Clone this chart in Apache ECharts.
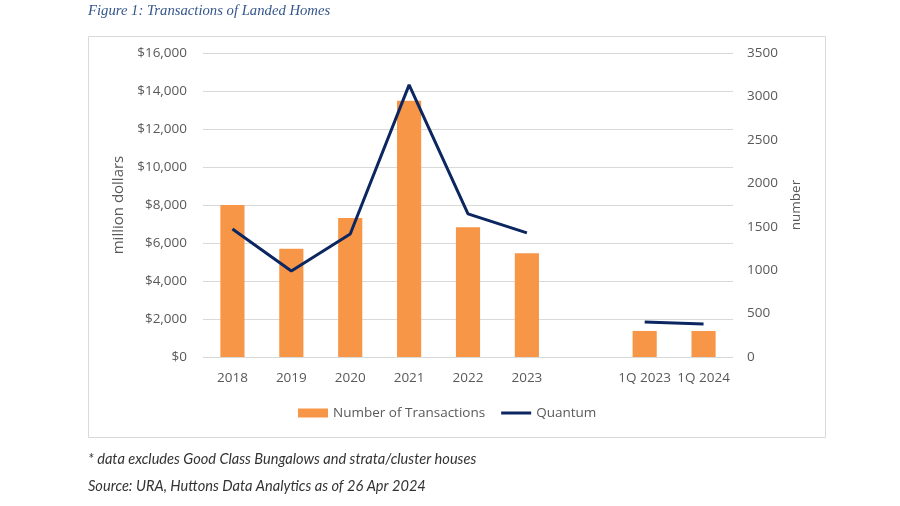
<!DOCTYPE html>
<html>
<head>
<meta charset="utf-8">
<script src="https://cdn.jsdelivr.net/npm/echarts@6/dist/echarts.min.js"></script>
<style>
html,body{margin:0;padding:0;background:#fff;}
#c{width:900px;height:506px;}
</style>
</head>
<body>
<div id="c"></div>
<script>
// Data
const categories = ['2018', '2019', '2020', '2021', '2022', '2023', '', '1Q 2023', '1Q 2024'];
const transactions = [1750, 1245, 1600, 2950, 1495, 1195, null, 300, 300]; // number (right axis)
const quantum = [6740, 4530, 6470, 14320, 7530, 6530, null, 1840, 1740];     // million dollars (left axis)
const leftTicks = { min: 0, max: 16000, interval: 2000 };
const rightTicks = { min: 0, max: 3500, interval: 500 };

const axisFont = { color: '#595959', fontSize: 13.5, fontFamily: 'Open Sans' };

const chart = echarts.init(document.getElementById('c'), null, { renderer: 'canvas' });
chart.setOption({
  animation: false,
  backgroundColor: '#fff',
  graphic: [
    { type: 'rect', shape: { x: 88.5, y: 36.5, width: 737, height: 401 },
      style: { fill: 'none', stroke: '#d9d9d9', lineWidth: 1 }, silent: true },
    { type: 'text', left: 88, top: 4,
      style: { text: 'Figure 1: Transactions of Landed Homes', fill: '#34568b',
        font: 'italic 14.7px "Liberation Serif"' } },
    { type: 'text', left: 88, top: 452,
      style: { text: '* data excludes Good Class Bungalows and strata/cluster houses', fill: '#333',
        font: 'italic 14.6px Lato' } },
    { type: 'text', left: 88, top: 479,
      style: { text: 'Source: URA, Huttons Data Analytics as of 26 Apr 2024', fill: '#333',
        font: 'italic 14.6px Lato' } }
  ],
  grid: { left: 203, right: 167, top: 53, bottom: 149, containLabel: false },
  legend: {
    top: 401, left: 293,
    itemWidth: 30, itemHeight: 9, itemGap: 16,
    symbolKeepAspect: true,
    textStyle: { color: '#595959', fontSize: 13.5, fontFamily: 'Open Sans' },
    data: [
      { name: 'Number of Transactions', icon: 'rect' },
      { name: 'Quantum', icon: 'path://M0,0 L30,0 L30,3 L0,3 Z', itemStyle: { color: '#0b2660' } }
    ]
  },
  xAxis: {
    type: 'category',
    data: categories,
    axisLine: { show: false },
    axisTick: { show: false },
    axisLabel: Object.assign({ margin: 14, interval: 0 }, axisFont)
  },
  yAxis: [
    {
      type: 'value', min: leftTicks.min, max: leftTicks.max, interval: leftTicks.interval,
      name: 'million dollars', nameLocation: 'middle', nameGap: 68, nameRotate: 90,
      nameTextStyle: { color: '#595959', fontSize: 15, fontFamily: 'Open Sans' },
      axisLine: { show: false }, axisTick: { show: false },
      axisLabel: Object.assign({ margin: 16, formatter: v => '$' + v.toLocaleString('en-US') }, axisFont),
      splitLine: { lineStyle: { color: '#d9d9d9', width: 1 } }
    },
    {
      type: 'value', min: rightTicks.min, max: rightTicks.max, interval: rightTicks.interval,
      name: 'number', nameLocation: 'middle', nameGap: 56, nameRotate: 90,
      nameTextStyle: { color: '#595959', fontSize: 13.5, fontFamily: 'Open Sans' },
      axisLine: { show: false }, axisTick: { show: false },
      axisLabel: Object.assign({ margin: 14, formatter: v => String(v) }, axisFont),
      splitLine: { show: false }
    }
  ],
  series: [
    {
      name: 'Number of Transactions', type: 'bar', yAxisIndex: 1,
      data: transactions, barWidth: '41%',
      itemStyle: { color: '#f79646' }
    },
    {
      name: 'Quantum', type: 'line', yAxisIndex: 0,
      data: quantum, symbol: 'none', connectNulls: false,
      lineStyle: { color: '#0b2660', width: 3 },
      itemStyle: { color: '#0b2660' }
    }
  ]
});
</script>
</body>
</html>
